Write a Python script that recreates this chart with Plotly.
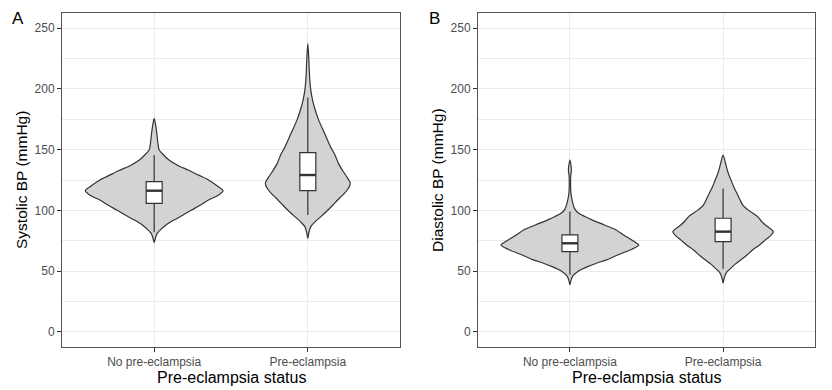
import plotly.graph_objects as go

# ---------------- data ----------------
categories = ["No pre-eclampsia", "Pre-eclampsia"]
y_ticks = [0, 50, 100, 150, 200, 250]

# violin outlines: BP level and relative density (half-width) at that level
sys_no_y = [175.7, 170, 163, 155, 150, 146, 141.4, 137, 133, 129, 125, 120, 116.2,
            112, 108.5, 104, 100.3, 96, 92, 88, 85.3, 81, 77, 73.4]
sys_no_d = [0, 1.5, 2.7, 3.8, 5, 9, 15, 24, 35, 45, 55, 64, 69.7,
            64, 55, 46, 38, 29, 20, 12, 8, 3, 1.2, 0]

sys_pe_y = [237.4, 225, 210, 199, 192, 185.3, 174.3, 163.4, 152.4, 145.6, 138.7, 131.8,
            127, 122.3, 118, 114, 110, 105.8, 101.5, 97.6, 94, 90.7, 86.6, 82, 77]
sys_pe_d = [0, 1, 1.8, 3, 4.5, 6.5, 11, 17, 23, 27.5, 31, 36,
            40, 43, 41, 37, 32, 27, 22, 17, 12, 7.5, 3, 1.2, 0]

dia_no_y = [141.4, 137, 133, 129, 125, 115, 110, 105.8, 101, 97.6, 95, 92, 88, 83.9,
            80, 77, 74, 71.5, 68, 64.7, 62, 59.2, 56.5, 53.7, 51.5, 49.6, 45.5, 42, 38.7]
dia_no_d = [0, 1.1, 1.5, 0.9, 0.7, 0.9, 1.8, 3, 5, 9, 15, 23, 35, 47,
            54, 60, 66, 70, 63, 53, 45, 37, 27, 18, 12, 8, 2.5, 1, 0]

dia_pe_y = [145.6, 141, 136, 130, 125, 119, 114, 109, 104.4, 100, 94.8, 91, 88, 85,
            82.5, 79, 75.7, 71.5, 67.4, 63, 59.2, 55.5, 52.4, 49, 44.5, 40]
dia_pe_d = [0, 1.8, 3.3, 5.5, 8, 11, 14, 17, 20, 26, 35, 39, 43, 48,
            51, 48, 43, 37, 30, 24, 18, 12, 8, 3.5, 1.2, 0]

# box statistics [no pre-eclampsia, pre-eclampsia]
sys_q1 = [105.8, 116.2]
sys_med = [116.2, 129.1]
sys_q3 = [123.6, 147.5]
sys_lo = [82, 96.2]
sys_hi = [145.6, 193]

dia_q1 = [66, 74.3]
dia_med = [72.9, 82.5]
dia_q3 = [79.8, 93.5]
dia_lo = [47, 52]
dia_hi = [99, 118.1]

# ---------------- styling ----------------
FONT = "Liberation Sans, Arial, Helvetica, sans-serif"
DARK = "#333333"
GRID = "#EBEBEB"
VIOLIN_FILL = "#D3D3D3"
VIOLIN_W = 0.9      # full violin width (category units) for the densest group
BOX_W = 0.104
X_RANGE = [0.4, 2.6]
Y_RANGE = [-12.5, 262.5]

dmax = max(max(sys_no_d), max(sys_pe_d), max(dia_no_d), max(dia_pe_d))

fig = go.Figure()


def add_violin(center, ys, ds, xa, ya):
    hw = [VIOLIN_W / 2 * d / dmax for d in ds]
    xs = [center + h for h in hw] + [center - h for h in reversed(hw)]
    yy = list(ys) + list(reversed(ys))
    fig.add_trace(go.Scatter(
        x=xs, y=yy, mode="lines", fill="toself", fillcolor=VIOLIN_FILL,
        line=dict(color=DARK, width=1.2, shape="spline", smoothing=0.8),
        xaxis=xa, yaxis=ya, showlegend=False, hoverinfo="skip"))


def add_boxes(q1, med, q3, lo, hi, xa, ya):
    fig.add_trace(go.Box(
        x=[1, 2], q1=q1, median=med, q3=q3, lowerfence=lo, upperfence=hi,
        orientation="v",
        width=BOX_W, whiskerwidth=0, boxpoints=False,
        fillcolor="white", line=dict(color=DARK, width=1.2),
        xaxis=xa, yaxis=ya, showlegend=False, hoverinfo="skip"))
    for i, m in enumerate(med):
        c = i + 1
        fig.add_trace(go.Scatter(
            x=[c - BOX_W / 2, c + BOX_W / 2], y=[m, m], mode="lines",
            line=dict(color=DARK, width=2.4),
            xaxis=xa, yaxis=ya, showlegend=False, hoverinfo="skip"))


# violins on the base axes, boxes on overlay axes (drawn on top)
add_violin(1, sys_no_y, sys_no_d, "x", "y")
add_violin(2, sys_pe_y, sys_pe_d, "x", "y")
add_boxes(sys_q1, sys_med, sys_q3, sys_lo, sys_hi, "x3", "y3")

add_violin(1, dia_no_y, dia_no_d, "x2", "y2")
add_violin(2, dia_pe_y, dia_pe_d, "x2", "y2")
add_boxes(dia_q1, dia_med, dia_q3, dia_lo, dia_hi, "x4", "y4")

W, H = 832, 390
yd = [(H - 347) / H, (H - 13) / H]

common_x = dict(
    range=X_RANGE, tickmode="array", tickvals=[1, 2], ticktext=categories,
    showgrid=True, gridcolor=GRID, gridwidth=1.2, zeroline=False,
    showline=True, mirror=True, linecolor="#555555", linewidth=1,
    ticks="outside", ticklen=4, tickcolor=DARK, tickwidth=1,
    tickfont=dict(family=FONT, size=12, color="#4D4D4D"), fixedrange=True)
common_y = dict(
    range=Y_RANGE, tickmode="array", tickvals=y_ticks,
    showgrid=True, gridcolor=GRID, gridwidth=1.2, zeroline=False,
    showline=True, mirror=True, linecolor="#555555", linewidth=1,
    ticks="outside", ticklen=4, tickcolor=DARK, tickwidth=1,
    tickfont=dict(family=FONT, size=12, color="#4D4D4D"),
    minor=dict(tickvals=[25, 75, 125, 175, 225], showgrid=True,
               gridcolor=GRID, gridwidth=0.7, ticks=""),
    fixedrange=True)
hidden = dict(visible=False, showgrid=False, zeroline=False, fixedrange=True)

fig.update_layout(
    width=W, height=H, margin=dict(l=0, r=0, t=0, b=0),
    paper_bgcolor="white", plot_bgcolor="white",
    xaxis=dict(domain=[62 / W, 400 / W], anchor="y", **common_x),
    yaxis=dict(domain=yd, anchor="x", **common_y),
    xaxis2=dict(domain=[478 / W, 815 / W], anchor="y2", **common_x),
    yaxis2=dict(domain=yd, anchor="x2", **common_y),
    xaxis3=dict(overlaying="x", anchor="y3", range=X_RANGE, **hidden),
    yaxis3=dict(overlaying="y", anchor="x3", range=Y_RANGE, **hidden),
    xaxis4=dict(overlaying="x2", anchor="y4", range=X_RANGE, **hidden),
    yaxis4=dict(overlaying="y2", anchor="x4", range=Y_RANGE, **hidden),
    font=dict(family=FONT),
)

ann = []
for label, x in [("A", 10), ("B", 427)]:
    ann.append(dict(text=label, x=x / W, y=1 - 18 / H, xref="paper", yref="paper",
                    xanchor="left", yanchor="middle", showarrow=False,
                    font=dict(family=FONT, size=17, color="black")))
for label, x in [("Systolic BP (mmHg)", 21), ("Diastolic BP (mmHg)", 437)]:
    ann.append(dict(text=label, x=x / W, y=1 - 180 / H, xref="paper", yref="paper",
                    xanchor="center", yanchor="middle", textangle=-90, showarrow=False,
                    font=dict(family=FONT, size=15.5, color="black")))
for x in [(62 + 400) / 2, (478 + 815) / 2]:
    ann.append(dict(text="Pre-eclampsia status", x=x / W, y=1 - 377 / H,
                    xref="paper", yref="paper", xanchor="center", yanchor="middle",
                    showarrow=False, font=dict(family=FONT, size=16, color="black")))
fig.update_layout(annotations=ann)

fig.write_html(
    "out.html",
    config={"displayModeBar": False},
    post_script="document.body.style.margin='0px';document.body.style.overflow='hidden';",
)
